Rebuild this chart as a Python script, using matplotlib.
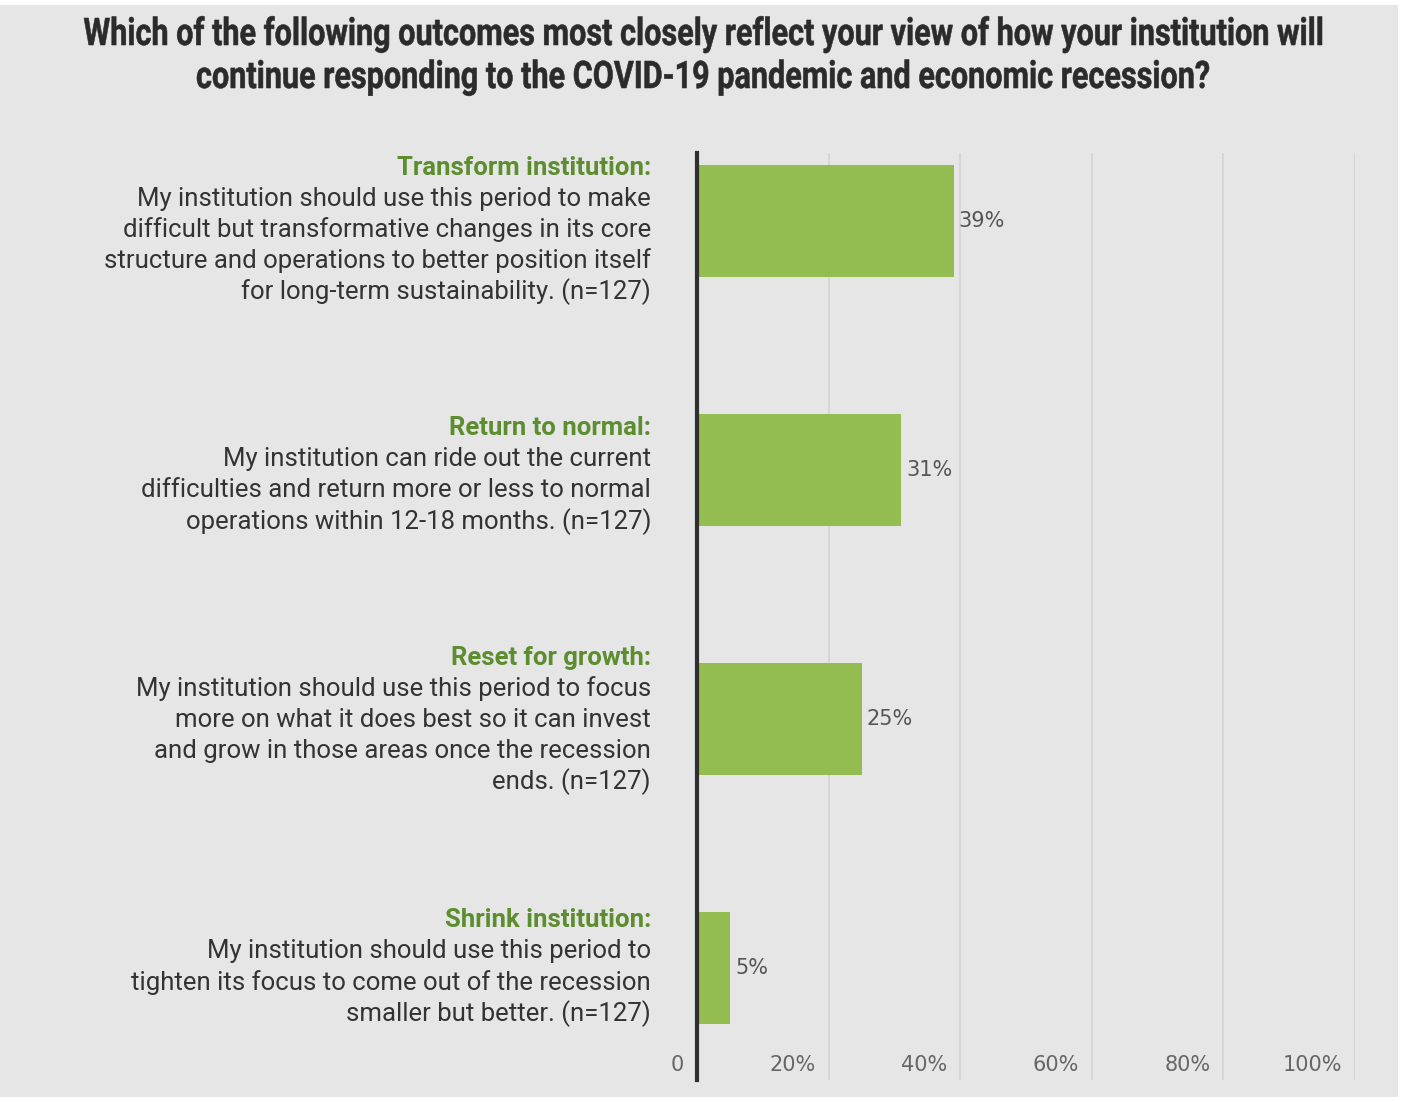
import matplotlib
matplotlib.use("Agg")
import matplotlib.pyplot as plt
from matplotlib.patches import Rectangle, PathPatch
from matplotlib.textpath import TextPath
from matplotlib.font_manager import FontProperties
from matplotlib.transforms import Affine2D, blended_transform_factory

W, H, DPI = 1406, 1102, 100
PT = 72 / DPI  # pixels -> points

title_lines = [
    "Which of the following outcomes most closely reflect your view of how your institution will",
    "continue responding to the COVID-19 pandemic and economic recession?",
]
categories = ["Transform institution:", "Return to normal:", "Reset for growth:", "Shrink institution:"]
descriptions = [
    ["My institution should use this period to make",
     "difficult but transformative changes in its core",
     "structure and operations to better position itself",
     "for long-term sustainability. (n=127)"],
    ["My institution can ride out the current",
     "difficulties and return more or less to normal",
     "operations within 12-18 months. (n=127)"],
    ["My institution should use this period to focus",
     "more on what it does best so it can invest",
     "and grow in those areas once the recession",
     "ends. (n=127)"],
    ["My institution should use this period to",
     "tighten its focus to come out of the recession",
     "smaller but better. (n=127)"],
]
values = [39, 31, 25, 5]
value_labels = ["39%", "31%", "25%", "5%"]
ticks = [0, 20, 40, 60, 80, 100]
tick_labels = ["0", "20%", "40%", "60%", "80%", "100%"]

BG = "#e6e6e6"
BAR = "#93bd50"
GREEN = "#5c8d2e"
TEXT = "#333333"

fig = plt.figure(figsize=(W / DPI, H / DPI), dpi=DPI, facecolor="white")
fig.patches.append(Rectangle((0, 5 / H), 1398 / W, 1092 / H, transform=fig.transFigure,
                             facecolor=BG, edgecolor="none", zorder=-10))

# title: condensed bold look, built from a text path squeezed horizontally
tprop = FontProperties(family="Roboto", weight="bold")
paths = [TextPath((0, 0), s, size=1, prop=tprop) for s in title_lines]
sy = 27 / 0.711                      # cap height ~27 px
sx = 1238 / paths[0].get_extents().width
baselines = [45, 88]                 # px from top
for p, base in zip(paths, baselines):
    ext = p.get_extents()
    x0 = W / 2 - (ext.x0 + ext.width / 2) * sx
    tr = Affine2D().scale(sx, sy).translate(x0, H - base).scale(1 / W, 1 / H) + fig.transFigure
    fig.patches.append(PathPatch(p, transform=tr, facecolor="#2b2b2b", edgecolor="#2b2b2b", lw=0.4))

ax = fig.add_axes([697 / W, 1 - 1080 / H, 658 / W, 927 / H])
ax.set_facecolor("none")
ax.barh(range(len(values)), values, height=0.45, color=BAR, zorder=3)
ax.set_xlim(0, 100)
ax.set_ylim(3.45, -0.273)
ax.set_xticks(ticks)
ax.set_yticks([])
ax.tick_params(axis="x", length=0, labelbottom=False)
ax.xaxis.grid(True, color="#d3d3d3", lw=1.2, zorder=0)
for s in ["top", "right", "bottom"]:
    ax.spines[s].set_visible(False)
ax.spines["left"].set_linewidth(3)
ax.spines["left"].set_color("#2f2f2f")
ax.spines["left"].set_zorder(5)

# value labels
for i, (v, lbl) in enumerate(zip(values, value_labels)):
    ax.annotate(lbl, (v, i), xytext=(5 * PT, 0), textcoords="offset points",
                ha="left", va="center", fontsize=15, color="#555555", family="DejaVu Sans")

# x tick labels drawn inside the plot, right-aligned just left of each gridline
trans = blended_transform_factory(ax.transData, ax.transAxes)
for t, lbl in zip(ticks, tick_labels):
    ax.annotate(lbl, (t, 0.016), xycoords=trans, xytext=(-13 * PT, 0), textcoords="offset points",
                ha="right", va="center", fontsize=15, color="#666666", family="DejaVu Sans",
                annotation_clip=False)

# category labels, roughly centred on each bar (small per-block nudge in px)
block_shift = [9, 5, 1, -1]
for i, (cat, desc) in enumerate(zip(categories, descriptions)):
    lines = [cat] + desc
    n = len(lines)
    for j, line in enumerate(lines):
        off = (j - (n - 1) / 2) * 31 + block_shift[i]
        ax.annotate(line, (0, i), xytext=(-46 * PT, -off * PT), textcoords="offset points",
                    ha="right", va="center", fontsize=18.5, annotation_clip=False,
                    family="Roboto", color=GREEN if j == 0 else TEXT,
                    fontweight="bold" if j == 0 else "normal")

fig.savefig("out.png", dpi=DPI, facecolor=fig.get_facecolor())
